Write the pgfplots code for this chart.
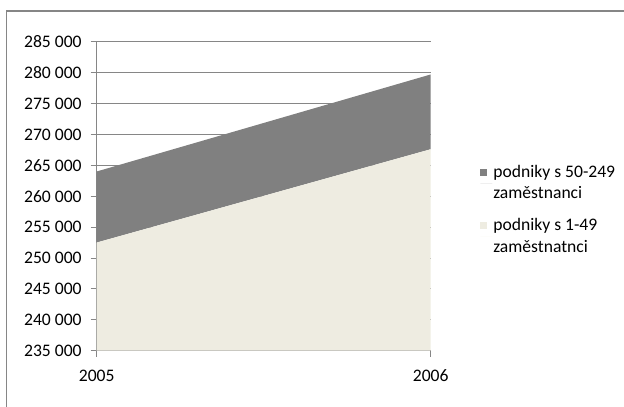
\documentclass[border=0pt]{standalone}
\usepackage{fontspec}
\setmainfont{Carlito}
\usepackage{pgfplots}
\pgfplotsset{compat=1.18}
\definecolor{gridgray}{HTML}{868686}
\definecolor{topgray}{HTML}{808080}
\definecolor{beige}{HTML}{EEECE1}
\begin{document}
\fontsize{17.6bp}{21.5bp}\selectfont
\begin{tikzpicture}
\useasboundingbox (0,0) rectangle (624bp,407bp);
\draw[gridgray, line width=1.5bp] (6.7bp,0) -- (6.7bp,396bp) -- (624bp,396bp);
\begin{axis}[
    at={(96.7bp,56.3bp)}, anchor=south west,
    scale only axis,
    width=334bp, height=309bp,
    stack plots=y,
    xmin=2005, xmax=2006,
    ymin=235000, ymax=285000,
    scaled y ticks=false,
    scaled x ticks=false,
    xtick={2005,2006},
    xticklabels={2005,2006},
    ytick={235000,240000,245000,250000,255000,260000,265000,270000,275000,280000,285000},
    yticklabels={235 000,240 000,245 000,250 000,255 000,260 000,265 000,270 000,275 000,280 000,285 000},
    axis lines=left,
    axis line style={-, gridgray, line width=0.8bp},
    tick style={gridgray, line width=0.8bp},
    tick align=outside,
    major tick length=6bp,
    ymajorgrids,
    grid style={gridgray, line width=0.8bp},
    tick label style={font=\fontsize{17.6bp}{21.5bp}\selectfont},
    xticklabel style={yshift=-7bp},
    yticklabel style={xshift=-3bp},
    reverse legend,
    legend style={at={(1.139,0.611)}, anchor=north west, draw=none,
        fill=none, font=\fontsize{17.6bp}{21.5bp}\selectfont,
        nodes={align=left, inner sep=1bp}, row sep=15bp},
    legend cell align=left,
    legend image code/.code={\fill[#1] (0bp,7.5bp) rectangle (7bp,14.5bp);
        \path (0bp,0bp) -- (12bp,0bp);},
]
\addplot[draw=none, fill=beige] coordinates {(2005,252500) (2006,267600)} \closedcycle;
\addlegendentry{{podniky s 1-49\\zaměstnatnci}}
\addplot[draw=none, fill=topgray] coordinates {(2005,11500) (2006,12100)} \closedcycle;
\addlegendentry{{podniky s 50-249\\zaměstnanci}}
\end{axis}
\end{tikzpicture}
\end{document}
